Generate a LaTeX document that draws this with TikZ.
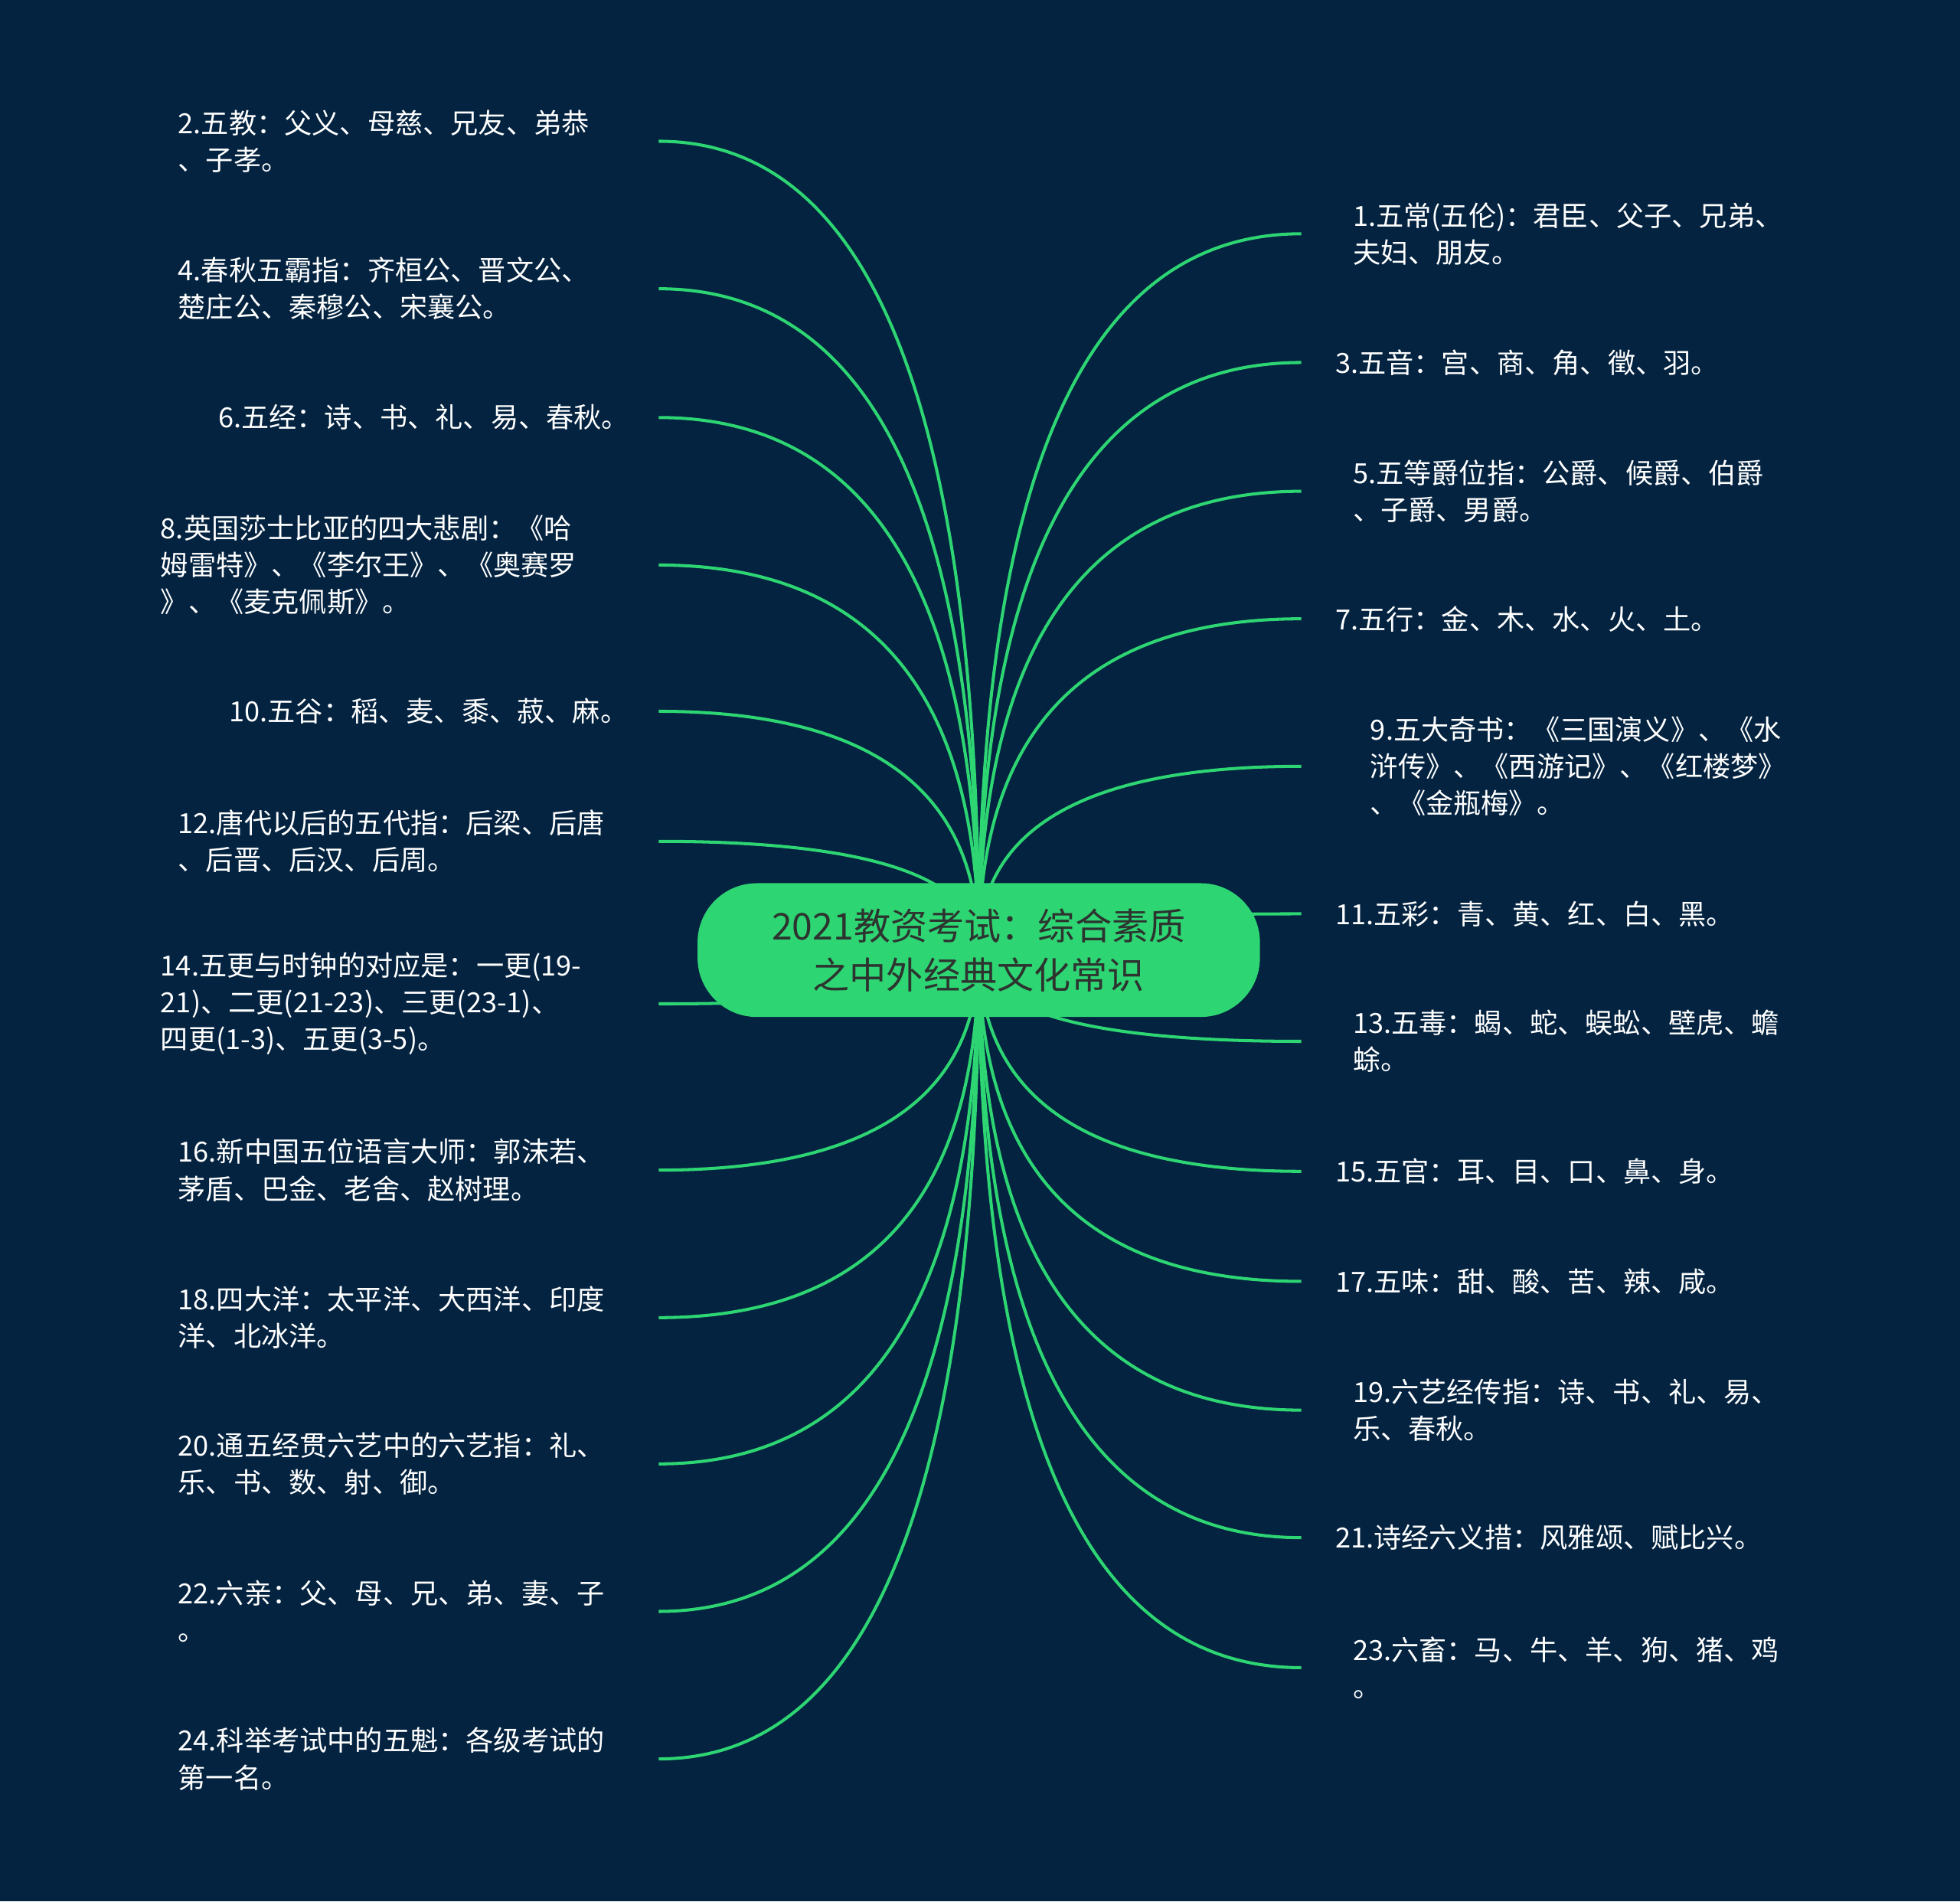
\documentclass[tikz,border=0pt]{standalone}
\usepackage{fontspec}
\newfontfamily\cjk{Noto Sans CJK SC}
\usetikzlibrary{calc}
\definecolor{bgnavy}{RGB}{3,35,64}
\definecolor{mmgreen}{RGB}{46,213,115}
\definecolor{ctrtext}{RGB}{45,52,48}
\pgfdeclarelayer{bglayer}
\pgfdeclarelayer{edges}
\pgfsetlayers{bglayer,edges,main}
\begin{document}
\begin{tikzpicture}[x=0.016327cm,y=-0.016327cm,
  leaf/.style={text=white,font=\cjk\fontsize{10.3}{13.7}\selectfont,align=left,inner ysep=0pt},
  lleaf/.style={leaf,anchor=east,inner xsep=7pt,text width=#1},
  rleaf/.style={leaf,anchor=west,inner xsep=#1},
  root/.style={fill=mmgreen,text=ctrtext,font=\cjk\fontsize{13.7}{18.1}\selectfont,align=center,
    rounded corners=22pt,minimum width=209pt,minimum height=49.7pt,inner sep=0pt},
  branch/.style={draw=mmgreen,line width=1.15pt,
    to path={.. controls ($(\tikztostart)!0.6667!(\tikztostart|-\tikztotarget)$)
      and ($(\tikztotarget)!0.6667!(\tikztostart|-\tikztotarget)$) .. (\tikztotarget)}}]
\useasboundingbox (0,0) rectangle (1568,1521);
\begin{pgfonlayer}{bglayer}
\fill[bgnavy] (0,0) rectangle (1568,1521);
\end{pgfonlayer}

\node[root] (root) at (783,760) {2021教资考试：综合素质\\之中外经典文化常识};

% left side
\node[lleaf=171.4pt] (n2) at (527,113) {2.五教：父义、母慈、兄友、弟恭\\、子孝。};
\node[lleaf=171.4pt] (n4) at (527,231) {4.春秋五霸指：齐桓公、晋文公、\\楚庄公、秦穆公、宋襄公。};
\node[lleaf=156.5pt] (n6) at (527,334) {6.五经：诗、书、礼、易、春秋。};
\node[lleaf=177.9pt] (n8) at (527,452) {8.英国莎士比亚的四大悲剧：《哈\\姆雷特》、《李尔王》、《奥赛罗\\》、《麦克佩斯》。};
\node[lleaf=152.4pt] (n10) at (527,569) {10.五谷：稻、麦、黍、菽、麻。};
\node[lleaf=171.4pt] (n12) at (527,673) {12.唐代以后的五代指：后梁、后唐\\、后晋、后汉、后周。};
\node[lleaf=177.9pt] (n14) at (527,803) {14.五更与时钟的对应是：一更(19-\\21)、二更(21-23)、三更(23-1)、\\四更(1-3)、五更(3-5)。};
\node[lleaf=171.4pt] (n16) at (527,936) {16.新中国五位语言大师：郭沫若、\\茅盾、巴金、老舍、赵树理。};
\node[lleaf=171.4pt] (n18) at (527,1054) {18.四大洋：太平洋、大西洋、印度\\洋、北冰洋。};
\node[lleaf=171.4pt] (n20) at (527,1171) {20.通五经贯六艺中的六艺指：礼、\\乐、书、数、射、御。};
\node[lleaf=171.4pt] (n22) at (527,1289) {22.六亲：父、母、兄、弟、妻、子\\。};
\node[lleaf=171.4pt] (n24) at (527,1407) {24.科举考试中的五魁：各级考试的\\第一名。};

% right side
\node[rleaf=19pt] (n1) at (1041,187) {1.五常(五伦)：君臣、父子、兄弟、\\夫妇、朋友。};
\node[rleaf=12.5pt] (n3) at (1041,290) {3.五音：宫、商、角、徵、羽。};
\node[rleaf=19pt] (n5) at (1041,393) {5.五等爵位指：公爵、候爵、伯爵\\、子爵、男爵。};
\node[rleaf=12.5pt] (n7) at (1041,495) {7.五行：金、木、水、火、土。};
\node[rleaf=25.5pt] (n9) at (1041,613) {9.五大奇书：《三国演义》、《水\\浒传》、《西游记》、《红楼梦》\\、《金瓶梅》。};
\node[rleaf=12.5pt] (n11) at (1041,731) {11.五彩：青、黄、红、白、黑。};
\node[rleaf=19pt] (n13) at (1041,833) {13.五毒：蝎、蛇、蜈蚣、壁虎、蟾\\蜍。};
\node[rleaf=12.5pt] (n15) at (1041,937) {15.五官：耳、目、口、鼻、身。};
\node[rleaf=12.5pt] (n17) at (1041,1025) {17.五味：甜、酸、苦、辣、咸。};
\node[rleaf=19pt] (n19) at (1041,1128) {19.六艺经传指：诗、书、礼、易、\\乐、春秋。};
\node[rleaf=12.5pt] (n21) at (1041,1230) {21.诗经六义措：风雅颂、赋比兴。};
\node[rleaf=19pt] (n23) at (1041,1334) {23.六畜：马、牛、羊、狗、猪、鸡\\。};

\begin{pgfonlayer}{edges}
\foreach \n in {n2,n4,n6,n8,n10,n12,n14,n16,n18,n20,n22,n24}
  \draw[branch] (root.center) to (\n.east);
\foreach \n in {n1,n3,n5,n7,n9,n11,n13,n15,n17,n19,n21,n23}
  \draw[branch] (root.center) to (\n.west);
\end{pgfonlayer}
\end{tikzpicture}
\end{document}
